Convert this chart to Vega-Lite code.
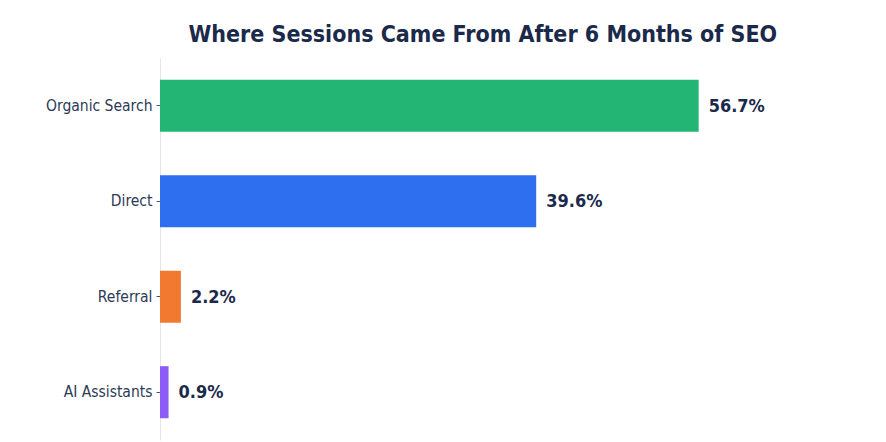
{
  "$schema": "https://vega.github.io/schema/vega-lite/v6.json",
  "autosize": "none",
  "padding": {"left": 160, "top": 58, "right": 61, "bottom": 2},
  "width": 665,
  "height": 382,
  "title": {
    "text": "Where Sessions Came From After 6 Months of SEO",
    "font": "DejaVu Sans Condensed",
    "fontSize": 23,
    "fontWeight": "bold",
    "color": "#1b2a4a",
    "anchor": "start",
    "dx": 143,
    "offset": 11
  },
  "data": {
    "values": [
      {"source": "Organic Search", "share": 56.7, "label": "56.7%"},
      {"source": "Direct", "share": 39.6, "label": "39.6%"},
      {"source": "Referral", "share": 2.2, "label": "2.2%"},
      {"source": "AI Assistants", "share": 0.9, "label": "0.9%"}
    ]
  },
  "encoding": {
    "y": {
      "field": "source",
      "type": "nominal",
      "sort": null,
      "title": null,
      "scale": {"paddingInner": 0.455, "paddingOuter": 0.228},
      "axis": {
        "labelFont": "DejaVu Sans Condensed",
        "labelFontSize": 15.5,
        "labelColor": "#2d3a55",
        "labelPadding": 4,
        "tickColor": "#555",
        "tickSize": 4,
        "domainColor": "#e3e5ea",
        "domainWidth": 1
      }
    },
    "x": {
      "field": "share",
      "type": "quantitative",
      "scale": {"domain": [0, 70]},
      "axis": null
    }
  },
  "layer": [
    {
      "mark": {"type": "bar"},
      "encoding": {
        "color": {
          "field": "source",
          "type": "nominal",
          "legend": null,
          "scale": {
            "domain": ["Organic Search", "Direct", "Referral", "AI Assistants"],
            "range": ["#23b574", "#2e6ff0", "#f27a30", "#8b5cf6"]
          }
        }
      }
    },
    {
      "mark": {
        "type": "text",
        "align": "left",
        "dx": 10,
        "dy": 1,
        "font": "DejaVu Sans Condensed",
        "fontSize": 18,
        "fontWeight": "bold",
        "color": "#1b2a4a"
      },
      "encoding": {"text": {"field": "label"}}
    }
  ],
  "config": {
    "view": {"stroke": null},
    "axis": {"grid": false}
  }
}
